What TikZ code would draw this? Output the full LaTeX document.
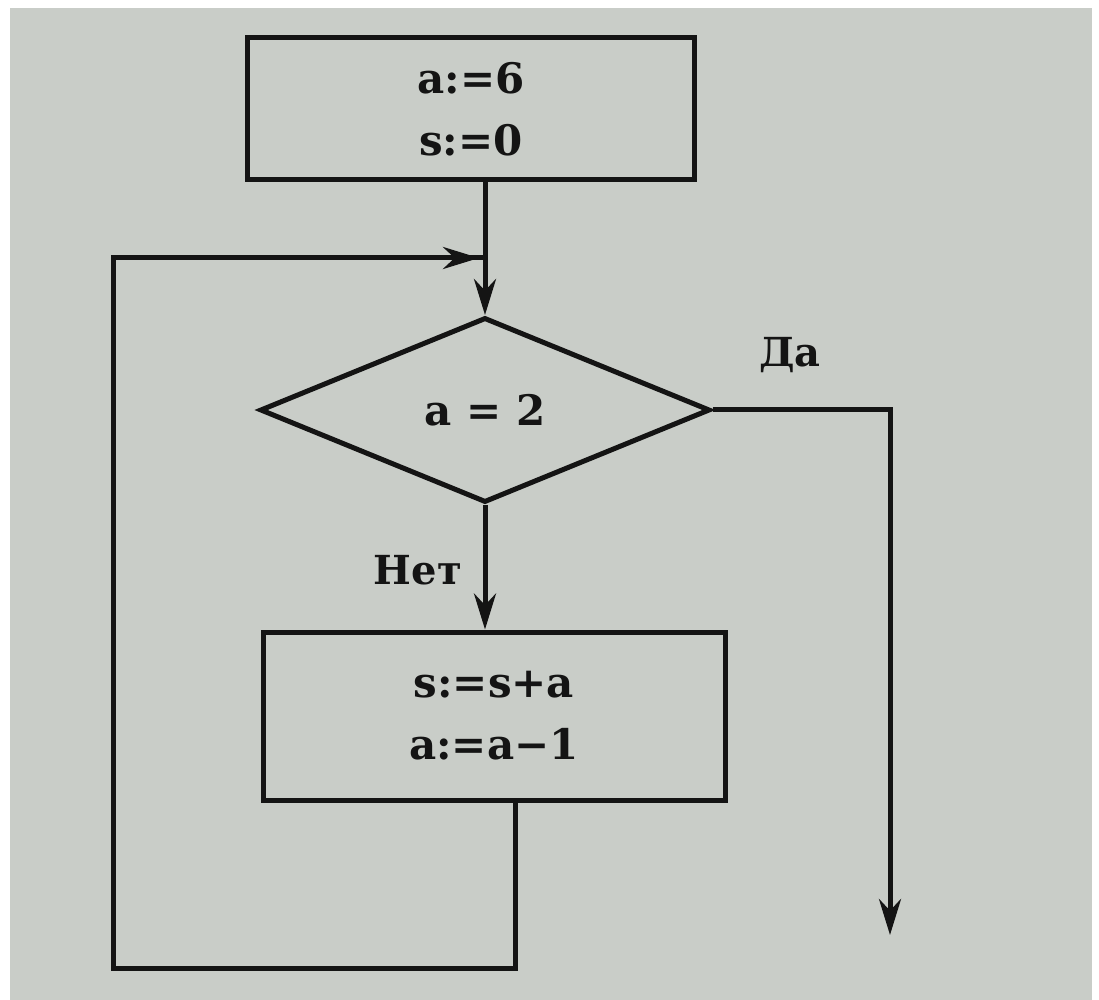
\documentclass[tikz,border=0pt]{standalone}
\usepackage{fontspec}
\setmainfont{DejaVu Serif}
\usetikzlibrary{shapes.geometric,arrows.meta}
\definecolor{paper}{RGB}{201,205,200}
\definecolor{ink}{RGB}{20,20,20}
\tikzset{
  flow/.style={line width=2.5pt, draw=ink, line join=miter},
  procbox/.style={flow, rectangle, inner sep=0pt, align=center, font=\fontsize{21}{31}\selectfont\bfseries, text=ink},
  decide/.style={flow, diamond, inner sep=0pt, font=\fontsize{21}{24}\selectfont\bfseries, text=ink},
  lbl/.style={font=\fontsize{20}{24}\selectfont\bfseries, text=ink},
  arr/.style={flow, -{Stealth[length=18pt,width=11pt]}}
}
\begin{document}
\begin{tikzpicture}[x=0.5pt,y=-0.5pt]
\useasboundingbox (0,0) rectangle (1099,1000);
\fill[white] (0,0) rectangle (1099,1000);
\fill[paper] (10,8) rectangle (1092,1000);
\node[procbox, minimum width=223.5pt, minimum height=71pt] (init) at (471,109) {a:=6\\s:=0};
\node[decide, minimum width=225pt, minimum height=92.5pt, aspect=2.43] (cond) at (485,410) {a = 2};
\node[procbox, minimum width=231pt, minimum height=84pt] (body) at (494,716) {s:=s+a\\a:=a−1};
\node[lbl] (yes) at (790,355) {Да};
\node[lbl] (no) at (418,570) {Нет};
\coordinate (join) at (485,258);
\coordinate (endp) at (890,935);
\coordinate (bb) at (515,968);
\coordinate (bl) at (113,968);
\coordinate (tl) at (113,258);
% top to decision
\draw[flow] (init.south -| cond.north) -- (join);
\draw[arr] (join) -- (cond.north);
% yes branch
\draw[arr] (cond.east) -- (cond.east -| endp) -- (endp);
% no branch
\draw[arr] (cond.south) -- (cond.south |- body.north);
% loop back
\draw[flow] (tl) -- (join);
\draw[arr] (body.south -| bb) -- (bb) -- (bl) -- (tl) -- ([xshift=-3pt]join);
\end{tikzpicture}
\end{document}
